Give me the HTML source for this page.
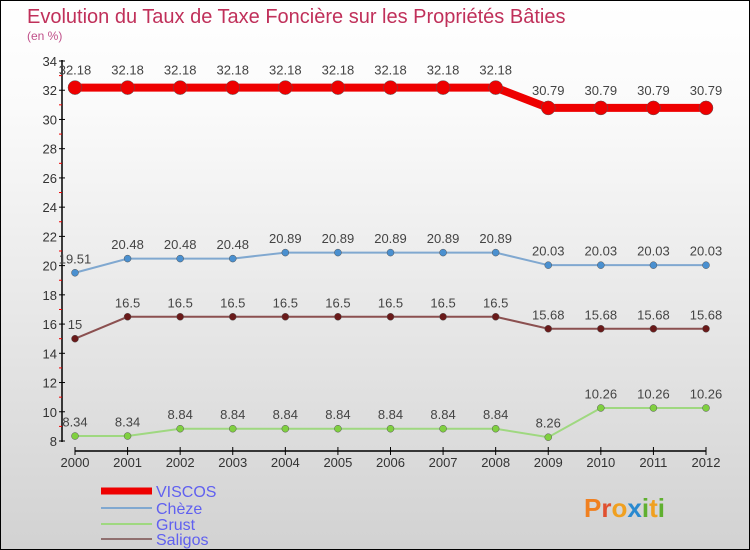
<!DOCTYPE html>
<html><head><meta charset="utf-8"><style>
body{margin:0}
#c{width:750px;height:550px;position:relative;box-sizing:border-box;border:1px solid #000;background:linear-gradient(#fff,#fafafa 20%,#d2d2d2);font-family:"Liberation Sans",sans-serif}
</style></head><body>
<div id="c">
<svg width="748" height="548" style="position:absolute;left:0;top:0" id="s">
<text x="26" y="22" font-size="20" fill="#c0305a">Evolution du Taux de Taxe Foncière sur les Propriétés Bâties</text>
<text x="26" y="39" font-size="12" fill="#c0508a">(en %)</text>
<text x="583" y="516" font-size="26" font-weight="bold" fill="#f08020">P<tspan fill="#e05030">r</tspan><tspan fill="#f0a020">o</tspan><tspan fill="#2a8ad0">x</tspan><tspan fill="#60b030">i</tspan><tspan fill="#f0a020">t</tspan><tspan fill="#60b030">i</tspan></text>
</svg>
</div>
<script>
const years=["2000","2001","2002","2003","2004","2005","2006","2007","2008","2009","2010","2011","2012"];
const viscos=[32.18,32.18,32.18,32.18,32.18,32.18,32.18,32.18,32.18,30.79,30.79,30.79,30.79];
const cheze=[19.51,20.48,20.48,20.48,20.89,20.89,20.89,20.89,20.89,20.03,20.03,20.03,20.03];
const grust=[8.34,8.34,8.84,8.84,8.84,8.84,8.84,8.84,8.84,8.26,10.26,10.26,10.26];
const saligos=[15,16.5,16.5,16.5,16.5,16.5,16.5,16.5,16.5,15.68,15.68,15.68,15.68];
const yTicks=[8,10,12,14,16,18,20,22,24,26,28,30,32,34];
const s=document.getElementById('s');const NS="http://www.w3.org/2000/svg";
const X=i=>74+i*(705-74)/(years.length-1);
const Y=v=>440-(v-8)*(380/26);
function el(t,a,p){const e=document.createElementNS(NS,t);for(const k in a)e.setAttribute(k,a[k]);(p||s).appendChild(e);return e;}
let ax=el('line',{x1:61,y1:59,x2:61,y2:441,stroke:'#000','stroke-width':1.5});


let xa=el('line',{x1:74,y1:450,x2:705,y2:450,stroke:'#000','stroke-width':1.5});


yTicks.forEach(v=>{el('line',{x1:58,x2:64,y1:Y(v),y2:Y(v),stroke:'#000'});
if(v<34)el('line',{x1:58,x2:61,y1:Y(v+1),y2:Y(v+1),stroke:'#e00'});
const t=el('text',{x:56,y:Y(v)+5,'font-size':13,'text-anchor':'end',fill:'#333'});t.textContent=v;

});
years.forEach((y,i)=>{el('line',{x1:X(i),x2:X(i),y1:446,y2:454,stroke:'#000'});
const t=el('text',{x:X(i),y:466,'font-size':13,'text-anchor':'middle',fill:'#333'});t.textContent=y;

});
function series(name,vals,col,w,r,dot){
const g=el('g',{});
el('polyline',{points:vals.map((v,i)=>X(i)+','+Y(v)).join(' '),fill:'none',stroke:col,'stroke-width':w},g);
vals.forEach((v,i)=>{const c=el('circle',{cx:X(i),cy:Y(v),r:r,fill:dot,stroke:'#555','stroke-width':0.5},g);


const t=el('text',{x:X(i),y:Y(v)-(r+6),'font-size':13,'text-anchor':'middle',fill:'#444'},g);
t.textContent=String(v);

});}
series('viscos',viscos,'#e00',8,7,'#e00');
series('cheze',cheze,'#80a8d0',2,3.5,'#4a90d0');
series('saligos',saligos,'#8b5050',2,3.5,'#6a1a1a');
series('grust',grust,'#9fd880',2,3.5,'#80d040');
[['VISCOS','#e00',7,490],['Chèze','#80a8d0',2,507],['Grust','#9fd880',2,523],['Saligos','#907070',2,538]].forEach(([n,c,w,y])=>{
const g=el('g',{});
el('line',{x1:100,x2:151,y1:y,y2:y,stroke:c,'stroke-width':w},g);
const t=el('text',{x:155,y:y+6,'font-size':16,fill:'#6060f0'},g);t.textContent=n;});
</script>
</body></html>
